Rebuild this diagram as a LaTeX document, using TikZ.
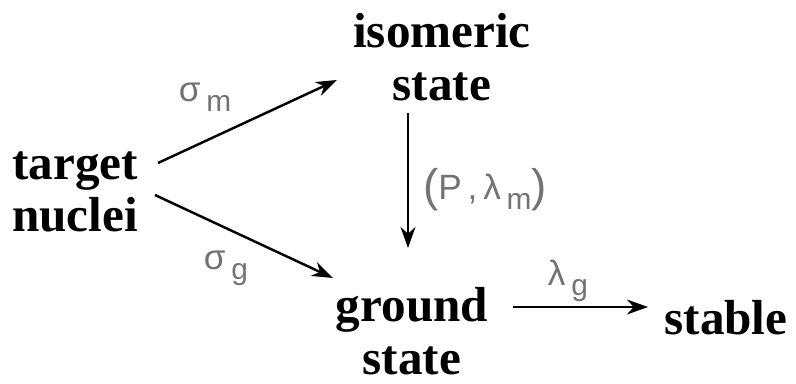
\documentclass[tikz,border=0pt]{standalone}
\usepackage{fontspec}
\setmainfont{Liberation Serif}
\newfontfamily\labelfont{Liberation Sans}
\usetikzlibrary{arrows.meta, positioning}
\newcommand{\lowidx}[1]{\raisebox{-0.55ex}{\fontsize{17pt}{17pt}\selectfont #1}}
\newcommand{\tallparen}[1]{{\fontsize{26pt}{26pt}\selectfont\raisebox{-0.1ex}{#1}}}

\begin{document}
\begin{tikzpicture}[x=0.02cm, y=-0.02cm,
  state/.style={align=center, font=\fontsize{28pt}{30pt}\selectfont\bfseries, inner sep=0pt},
  rate/.style={text=black!55, font=\labelfont\fontsize{20pt}{20pt}\selectfont, inner sep=0pt},
  >={Stealth[length=12pt, width=8.5pt]}, line width=1.4pt
]
\useasboundingbox (0,0) rectangle (796,383);

\node[state] (target) at (75,192)  {target\\nuclei};
\node[state] (iso)    at (442,57)  {isomeric\\state};
\node[state] (ground) at (412,331) {ground\\state};
\node[state] (stable) at (726,318) {stable};

\coordinate (tm) at (158,163);
\coordinate (tg) at (155,195);
\coordinate (im) at (337,80);
\coordinate (gm) at (333,278);
\coordinate (it) at (408,113);
\coordinate (gt) at (408,248);
\coordinate (gs) at (513,307);
\coordinate (st) at (648,307);

\draw[->] (tm) -- (im);
\draw[->] (tg) -- (gm);
\draw[->] (it) -- (gt);
\draw[->] (gs) -- (st);

\node[rate] (sm) at (205,97)  {σ\,\lowidx{m}};
\node[rate] (sg) at (226,268) {σ\,\lowidx{g}};
\node[rate] (pl) at (485,190) {\tallparen{(}P\,,\,λ\,\lowidx{m}\tallparen{)}};
\node[rate] (lg) at (568,281) {λ\,\lowidx{g}};

\end{tikzpicture}
\end{document}
